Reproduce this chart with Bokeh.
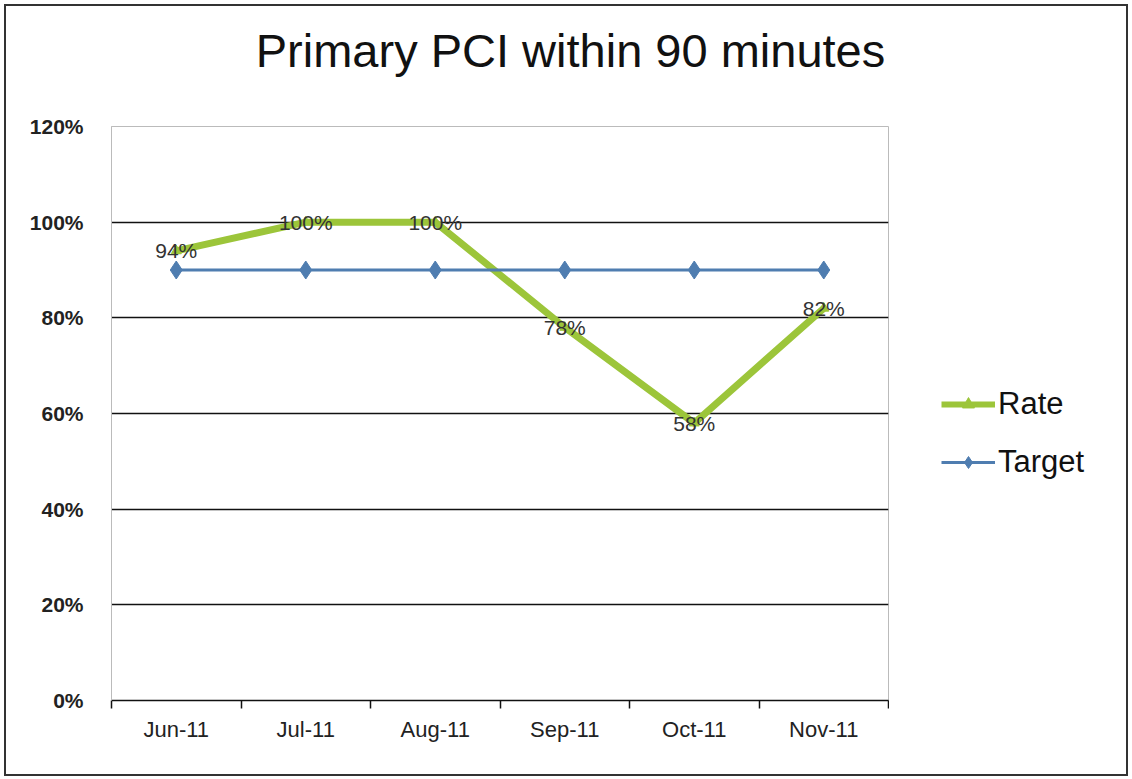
from bokeh.plotting import figure
from bokeh.layouts import row, column
from bokeh.models import (ColumnDataSource, Range1d, FixedTicker, NumeralTickFormatter,
                          Legend, LegendItem, LabelSet, Label)
from bokeh.core.properties import value
from bokeh.embed import file_html
from bokeh.resources import INLINE

# ---- data ----
title_text = "Primary PCI within 90 minutes"
months = ["Jun-11", "Jul-11", "Aug-11", "Sep-11", "Oct-11", "Nov-11"]
rate = [0.94, 1.00, 1.00, 0.78, 0.58, 0.82]
target = [0.90, 0.90, 0.90, 0.90, 0.90, 0.90]
y_ticks = [0.0, 0.2, 0.4, 0.6, 0.8, 1.0, 1.2]
series_names = ["Rate", "Target"]

FONT = "Liberation Sans"
GREEN = "#9CC53A"
BLUE = "#4F7DB0"

xpos = [i + 0.5 for i in range(len(months))]
src = ColumnDataSource(dict(
    x=xpos, rate=rate, target=target,
    lbl=[f"{round(v * 100)}%" for v in rate],
))

# ---- title strip ----
TW, TH = 1120, 80
t = figure(width=TW, height=TH, output_backend="svg", toolbar_location=None,
           x_range=Range1d(0, TW), y_range=Range1d(0, TH),
           x_axis_location=None, y_axis_location=None, min_border=0)
t.grid.visible = False
t.outline_line_color = None
t.background_fill_color = "white"
t.border_fill_color = "white"
t.add_layout(Label(x=564, y=36, text=title_text, text_align="center",
                   text_baseline="middle", text_font=FONT, text_font_size="47px",
                   text_color="#111111"))

# ---- main chart ----
p = figure(width=883, height=688, output_backend="svg", toolbar_location=None,
           x_range=Range1d(0, len(months)), y_range=Range1d(0, 1.2),
           min_border_left=105, min_border_right=1, min_border_top=40,
           min_border_bottom=74)
p.background_fill_color = "white"
p.border_fill_color = "white"
p.outline_line_color = "#BBBBBB"
p.outline_line_width = 1

# y axis
p.yaxis.ticker = FixedTicker(ticks=y_ticks)
p.yaxis.formatter = NumeralTickFormatter(format="0%")
p.yaxis.axis_line_color = "#BBBBBB"
p.yaxis.major_tick_line_color = None
p.yaxis.minor_tick_line_color = None
p.yaxis.major_label_text_font = FONT
p.yaxis.major_label_text_font_size = "21px"
p.yaxis.major_label_text_font_style = "bold"
p.yaxis.major_label_text_color = "#222222"
p.yaxis.major_label_standoff = 22

# x axis
p.xaxis.ticker = FixedTicker(ticks=xpos, minor_ticks=list(range(len(months) + 1)))
p.xaxis.major_label_overrides = {x: m for x, m in zip(xpos, months)}
p.xaxis.axis_line_color = "#111111"
p.xaxis.axis_line_width = 1.5
p.xaxis.major_tick_line_color = None
p.xaxis.minor_tick_line_color = "#111111"
p.xaxis.minor_tick_line_width = 1.5
p.xaxis.minor_tick_in = 0
p.xaxis.minor_tick_out = 8
p.xaxis.major_label_text_font = FONT
p.xaxis.major_label_text_font_size = "22px"
p.xaxis.major_label_text_color = "#222222"
p.xaxis.major_label_standoff = 8

# grid
p.xgrid.grid_line_color = None
p.ygrid.ticker = FixedTicker(ticks=[0.2, 0.4, 0.6, 0.8, 1.0])
p.ygrid.grid_line_color = "#111111"
p.ygrid.grid_line_width = 1.5

# series
p.line("x", "rate", source=src, line_color=GREEN, line_width=7, line_join="round")
p.scatter("x", "rate", source=src, marker="triangle", size=10,
          fill_color=GREEN, line_color=GREEN)
p.line("x", "target", source=src, line_color=BLUE, line_width=3)
p.scatter("x", "target", source=src, marker="diamond", size=18,
          fill_color=BLUE, line_color=BLUE)

labels = LabelSet(x="x", y="rate", text="lbl", source=src, text_align="center",
                  text_baseline="middle", text_font=value(FONT), text_font_size=value("21px"),
                  text_color="#333333")
p.add_layout(labels)

# ---- legend panel (separate figure to the right; its data lie outside its view) ----
q = figure(width=237, height=688, output_backend="svg", toolbar_location=None,
           x_range=Range1d(100, 101), y_range=Range1d(0, 1.2),
           x_axis_location=None, y_axis_location=None,
           min_border_left=0, min_border_right=0, min_border_top=40, min_border_bottom=74)
q.grid.visible = False
q.outline_line_color = None
q.background_fill_color = "white"
q.border_fill_color = "white"
ql1 = q.line("x", "rate", source=src, line_color=GREEN, line_width=6)
qm1 = q.scatter("x", "rate", source=src, marker="triangle", size=10,
                fill_color=GREEN, line_color=GREEN)
ql2 = q.line("x", "target", source=src, line_color=BLUE, line_width=3)
qm2 = q.scatter("x", "target", source=src, marker="diamond", size=16,
                fill_color=BLUE, line_color=BLUE)

legend = Legend(items=[LegendItem(label=series_names[0], renderers=[ql1, qm1]),
                       LegendItem(label=series_names[1], renderers=[ql2, qm2])],
                location=(52, 220), orientation="vertical")
legend.border_line_color = None
legend.background_fill_alpha = 0
legend.padding = 0
legend.margin = 0
legend.glyph_width = 54
legend.glyph_height = 30
legend.label_height = 30
legend.spacing = 22
legend.label_standoff = 3
legend.label_text_font = FONT
legend.label_text_font_size = "31px"
legend.label_text_color = "#111111"
q.add_layout(legend, "center")

layout = column(t, row(p, q))
layout.styles = {"border": "2px solid #333333", "margin-left": "4px", "margin-top": "4px",
                 "background-color": "white"}

open("out.html", "w").write(file_html(layout, INLINE))
